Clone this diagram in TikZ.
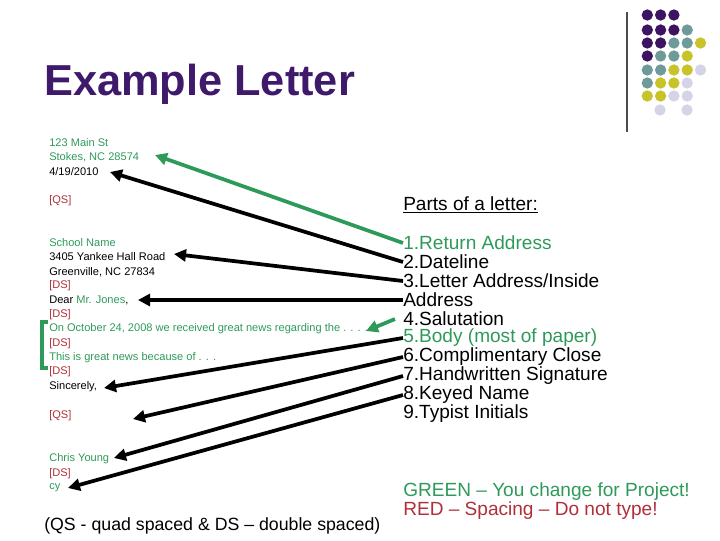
\documentclass[tikz,border=0pt]{standalone}
\usepackage{fontspec}
\setmainfont{Liberation Sans}
\usetikzlibrary{arrows.meta}
\definecolor{ttl}{HTML}{3F1A6B}
\definecolor{gr}{HTML}{2E9A5A}
\definecolor{rd}{HTML}{B0303A}
\definecolor{dP}{HTML}{3D1461}
\definecolor{dT}{HTML}{6E9A9A}
\definecolor{dY}{HTML}{C8C328}
\definecolor{dL}{HTML}{D4D4E6}
\begin{document}
\begin{tikzpicture}[x=0.75pt,y=-0.75pt,
  lt/.style={anchor=west,inner sep=0pt,font=\fontsize{8.3}{9}\selectfont},
  rt/.style={anchor=west,inner sep=0pt,font=\fontsize{14.3}{15}\selectfont},
  arr/.style={line width=2.8pt,-{Triangle[length=9pt,width=9pt]}},
  dot/.style={circle,inner sep=0pt,minimum size=8.5pt}]
\useasboundingbox (0,0) rectangle (720,540);
% decoration
\draw[line width=0.8pt,black!70] (627,12) -- (627,132);
\foreach \r/\row in {15/{P,P,P},30/{P,P,P,T},43/{P,P,T,T,Y},56/{P,T,T,Y},70/{T,T,Y,Y,L},83/{T,Y,Y,L},96/{Y,Y,L,L}}{
  \foreach \c [count=\i] in \row {\node[dot,fill=d\c] (d\r\i) at ({634+13.3*\i},\r) {};}}
\node[dot,fill=dL] (e1) at (660,110) {};
\node[dot,fill=dL] (e2) at (687,110) {};
\node[anchor=west,inner sep=0pt,text=ttl,font=\bfseries\fontsize{32.5}{34}\selectfont] (title) at (44,84) {Example Letter};
% letter
\node[lt,text=gr] (l1) at (49,143) {123 Main St};
\node[lt,text=gr] (l2) at (49,157) {Stokes, NC 28574};
\node[lt] (l3) at (49,172) {4/19/2010};
\node[lt,text=rd] (l4) at (49,201) {[QS]};
\node[lt,text=gr] (l5) at (49,243) {School Name};
\node[lt] (l6) at (49,257) {3405 Yankee Hall Road};
\node[lt] (l7) at (49,272) {Greenville, NC 27834};
\node[lt,text=rd] (l8) at (49,286) {[DS]};
\node[lt] (l9) at (49,300) {Dear \textcolor{gr}{Mr. Jones},};
\node[lt,text=rd] (l10) at (49,315) {[DS]};
\node[lt,text=gr] (l11) at (49,329) {On October 24, 2008 we received great news regarding the . . . .};
\node[lt,text=rd] (l12) at (49,344) {[DS]};
\node[lt,text=gr] (l13) at (49,358) {This is great news because of . . .};
\node[lt,text=rd] (l14) at (49,372) {[DS]};
\node[lt] (l15) at (49,387) {Sincerely,};
\node[lt,text=rd] (l16) at (49,416) {[QS]};
\node[lt,text=gr] (l17) at (49,459) {Chris Young};
\node[lt,text=rd] (l18) at (49,474) {[DS]};
\node[lt,text=gr] (l19) at (49,488) {cy};
\node[anchor=west,inner sep=0pt,font=\fontsize{13.3}{14}\selectfont] (note) at (44,526) {(QS - quad spaced \& DS -- double spaced)};
\draw[gr,line width=2.6pt] (48,322) -- (42,322) -- (42,368) -- (48,368);
% right list
\node[rt] (h) at (403,205) {\underline{Parts of a letter:}};
\node[rt,text=gr] (r1) at (403,243) {1.Return Address};
\node[rt] (r2) at (403,262) {2.Dateline};
\node[rt] (r3) at (403,281) {3.Letter Address/Inside};
\node[rt] (r3b) at (403,300) {Address};
\node[rt] (r4) at (403,319) {4.Salutation};
\node[rt,text=gr] (r5) at (403,338) {5.Body (most of paper)};
\node[rt] (r6) at (403,357) {6.Complimentary Close};
\node[rt] (r7) at (403,376) {7.Handwritten Signature};
\node[rt] (r8) at (403,395) {8.Keyed Name};
\node[rt] (r9) at (403,414) {9.Typist Initials};
\node[rt,text=gr] (g) at (403,492) {GREEN -- You change for Project!};
\node[rt,text=rd] (rr) at (403,511) {RED -- Spacing -- Do not type!};
% arrows
\coordinate (a1) at (155,155); \coordinate (a2) at (110,172);
\coordinate (a3) at (174,254); \coordinate (a4) at (138,300);
\coordinate (a5) at (366,331); \coordinate (a6) at (104,388);
\coordinate (a7) at (133,419); \coordinate (a8) at (114,458);
\coordinate (a9) at (68,488);
\draw[arr,gr] (r1.west) -- (a1);
\draw[arr] (r2.west) -- (a2);
\draw[arr] (r3.west) -- (a3);
\draw[arr] (r3b.west) -- (a4);
\draw[arr,gr] ([xshift=-6]r4.west) -- (a5);
\draw[arr] (r5.west) -- (a6);
\draw[arr] (r6.west) -- (a7);
\draw[arr] (r7.west) -- (a8);
\draw[arr] (r8.west) -- (a9);
\end{tikzpicture}
\end{document}
